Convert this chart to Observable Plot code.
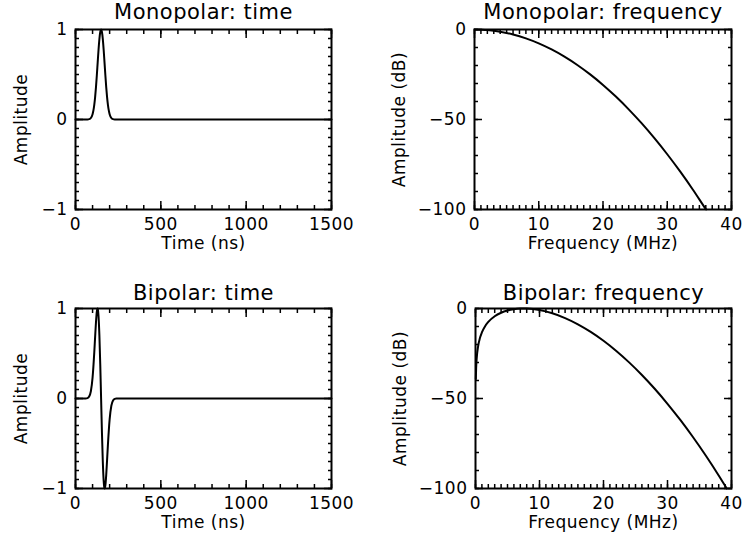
<!DOCTYPE html>
<html>
<head>
<meta charset="utf-8">
<script src="https://cdn.jsdelivr.net/npm/d3@7"></script>
<script src="https://cdn.jsdelivr.net/npm/@observablehq/plot@0.6"></script>
<style>
  body { margin: 0; background: #fff; }
  #page { position: relative; width: 744px; height: 550px; background: #fff; }
  .panel { position: absolute; }
</style>
</head>
<body>
<div id="page"></div>
<script>
// Monopolar pulse in time: amplitude vs time (ns)
const monoTime = [0, 60, 70, 80, 90, 100, 105, 110, 115, 120, 125, 130, 135, 140, 145, 150,
  155, 160, 165, 170, 175, 180, 185, 190, 195, 200, 210, 220, 230, 240, 1500];
const monoAmp = [0, 0, 0.0007, 0.004, 0.017, 0.059, 0.101, 0.163, 0.249, 0.360, 0.492, 0.635, 0.775, 0.893, 0.972, 1,
  0.972, 0.893, 0.775, 0.635, 0.492, 0.360, 0.249, 0.163, 0.101, 0.059, 0.017, 0.004, 0.0007, 0, 0];

// Monopolar spectrum: amplitude (dB) vs frequency (MHz)
const monoFreq = [0, 2, 4, 6, 8, 10, 12, 14, 16, 18, 20, 22, 24, 26, 28, 30, 32, 34, 36, 36.04];
const monoDb = [0, -0.31, -1.23, -2.77, -4.93, -7.70, -11.09, -15.09, -19.71, -24.95, -30.80,
  -37.27, -44.35, -52.05, -60.37, -69.30, -78.85, -89.01, -99.79, -100];

// Bipolar pulse in time
const biTime = [0, 60, 70, 80, 90, 100, 110, 115, 120, 125, 129, 130, 135, 140, 145, 150,
  155, 160, 165, 170, 171, 175, 180, 185, 190, 200, 210, 220, 230, 240, 250, 1500];
const biAmp = [0, 0.0007, 0.004, 0.021, 0.080, 0.231, 0.512, 0.685, 0.849, 0.966, 1, 0.998, 0.912, 0.701, 0.382, 0,
  -0.382, -0.701, -0.912, -0.998, -1, -0.966, -0.849, -0.685, -0.512, -0.231, -0.080, -0.021, -0.004, -0.0007, 0, 0];

// Bipolar spectrum
const biFreq = [0.05, 0.1, 0.2, 0.4, 0.7, 1, 1.5, 2, 3, 4, 5, 6, 7, 7.5, 8, 9, 10, 12, 14, 16, 18,
  20, 22, 24, 26, 28, 30, 32, 34, 36, 38, 39.26];
const biDb = [-39.2, -33.2, -27.15, -21.14, -16.31, -13.25, -9.82, -7.46, -4.32, -2.36, -1.11, -0.38, -0.04, 0, -0.04,
  -0.32, -0.87, -2.68, -5.34, -8.80, -13.02, -17.95, -23.59, -29.92, -36.92, -44.59, -52.93, -61.92,
  -71.55, -81.84, -92.76, -100];

// Axis ticks
const timeTicks = [0, 500, 1000, 1500];
const timeMinor = d3.range(0, 1501, 100);
const ampTicks = [-1, 0, 1];
const ampMinor = d3.range(-10, 11).map(d => d / 10);
const freqTicks = [0, 10, 20, 30, 40];
const freqMinor = d3.range(0, 41, 1);
const dbTicks = [-100, -50, 0];
const dbMinor = d3.range(-100, 1, 10);

const FONT = "DejaVu Sans, sans-serif";
// plain integers with a true minus sign, no grouping or decimals
const plainTick = d => String(d).replace("-", "\u2212");

function panel(cfg) {
  const data = cfg.xs.map((x, i) => ({x, y: cfg.ys[i]}));
  const blank = () => "";
  const major = 8, minor = 4;
  const chart = Plot.plot({
    width: 372,
    height: 275,
    marginLeft: cfg.ml, marginRight: cfg.mr, marginTop: cfg.mt, marginBottom: cfg.mb,
    style: {fontFamily: FONT, fontSize: "17px", letterSpacing: "0.5px", color: "#000", background: "#fff", overflow: "visible"},
    x: {domain: cfg.xDomain},
    y: {domain: cfg.yDomain},
    marks: [
      Plot.line(data, {x: "x", y: "y", curve: "monotone-x", stroke: "#000", strokeWidth: 2}),
      // bottom and left axes carry labels; top and right mirror the ticks
      Plot.axisX(cfg.xMajor, {anchor: "bottom", tickSize: -major, tickPadding: 16, tickFormat: plainTick, label: null, strokeWidth: 1.5}),
      Plot.axisX(cfg.xMinor, {anchor: "bottom", tickSize: -minor, tickFormat: blank, label: null, strokeWidth: 1.5}),
      Plot.axisX(cfg.xMajor, {anchor: "top", tickSize: -major, tickFormat: blank, label: null, strokeWidth: 1.5}),
      Plot.axisX(cfg.xMinor, {anchor: "top", tickSize: -minor, tickFormat: blank, label: null, strokeWidth: 1.5}),
      Plot.axisY(cfg.yMajor, {anchor: "left", tickSize: -major, tickPadding: 16, tickFormat: plainTick, label: null, strokeWidth: 1.5}),
      Plot.axisY(cfg.yMinor, {anchor: "left", tickSize: -minor, tickFormat: blank, label: null, strokeWidth: 1.5}),
      Plot.axisY(cfg.yMajor, {anchor: "right", tickSize: -major, tickFormat: blank, label: null, strokeWidth: 1.5}),
      Plot.axisY(cfg.yMinor, {anchor: "right", tickSize: -minor, tickFormat: blank, label: null, strokeWidth: 1.5}),
      Plot.frame({stroke: "#000", strokeWidth: 2}),
      Plot.text([cfg.xLabel], {frameAnchor: "bottom", textAnchor: "middle", lineAnchor: "top", dy: 27, fontSize: 17}),
      Plot.text([cfg.yLabel], {frameAnchor: "left", textAnchor: "middle", lineAnchor: "top", rotate: -90, dx: cfg.yLabelDx, fontSize: 17}),
      Plot.text([cfg.title], {frameAnchor: "top", textAnchor: "middle", lineAnchor: "bottom", dy: cfg.titleDy, fontSize: 21})
    ]
  });
  chart.classList.add("panel");
  chart.style.left = cfg.left + "px";
  chart.style.top = cfg.top + "px";
  document.getElementById("page").appendChild(chart);
}

const timeAxes = {xDomain: [0, 1500], yDomain: [-1, 1], xMajor: timeTicks, xMinor: timeMinor,
  yMajor: ampTicks, yMinor: ampMinor, xLabel: "Time (ns)", yLabel: "Amplitude", yLabelDx: -61};
const freqAxes = {xDomain: [0, 40], yDomain: [-100, 0], xMajor: freqTicks, xMinor: freqMinor,
  yMajor: dbTicks, yMinor: dbMinor, xLabel: "Frequency (MHz)", yLabel: "Amplitude (dB)", yLabelDx: -82};

panel({...timeAxes, left: 0, top: 0, ml: 75, mr: 41, mt: 29, mb: 66,
  title: "Monopolar: time", titleDy: -11, xs: monoTime, ys: monoAmp});
panel({...freqAxes, left: 372, top: 0, ml: 102, mr: 13, mt: 29, mb: 66,
  title: "Monopolar: frequency", titleDy: -11, xs: monoFreq, ys: monoDb});
panel({...timeAxes, left: 0, top: 275, ml: 75, mr: 41, mt: 33, mb: 62,
  title: "Bipolar: time", titleDy: -9, xs: biTime, ys: biAmp});
panel({...freqAxes, left: 372, top: 275, ml: 103, mr: 13, mt: 33, mb: 62,
  title: "Bipolar: frequency", titleDy: -9, xs: biFreq, ys: biDb});
</script>
</body>
</html>
